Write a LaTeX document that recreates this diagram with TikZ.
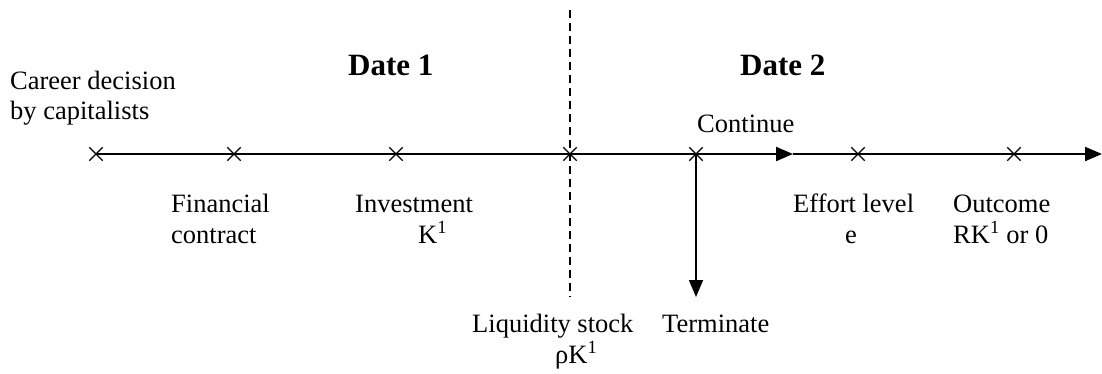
\documentclass[tikz,border=0pt]{standalone}
\usepackage{fontspec}
\setmainfont{Liberation Serif}
\usetikzlibrary{arrows.meta,shapes.misc}
\begin{document}
\begin{tikzpicture}[x=1pt,y=-1pt,
  lbl/.style={anchor=base west,inner sep=0pt,font=\fontsize{26.5}{30}\selectfont},
  datelbl/.style={anchor=base west,inner sep=0pt,font=\fontsize{31}{34}\selectfont\bfseries},
  xmark/.style={cross out,draw,line width=1.3pt,minimum size=12pt,inner sep=0pt},
  axis/.style={line width=2pt},
  tip/.style={-{Triangle[length=17pt,width=14pt]}}]
\useasboundingbox (0,0) rectangle (1102,373);
% crosses
\node[xmark] (c1) at (96,154) {};
\node[xmark] (c2) at (234,154) {};
\node[xmark] (c3) at (396,154) {};
\node[xmark] (c4) at (570,154) {};
\node[xmark] (c5) at (696,154) {};
\node[xmark] (c6) at (858,154) {};
\node[xmark] (c7) at (1014,154) {};
\coordinate (mid) at (793,154);
\coordinate (endp) at (1102,154);
\coordinate (dtop) at (570,10);
\coordinate (dbot) at (570,297);
\coordinate (termtip) at (696,297);
% time line
\draw[axis] (c1.center) -- (c5.center);
\draw[axis,tip] (c5.center) -- (mid);
\draw[axis,tip] (mid) -- (endp);
\draw[line width=1.6pt,tip] (c5.center) -- (termtip);
\draw[line width=1.4pt,dash pattern=on 8pt off 5pt] (dtop) -- (dbot);
% labels
\node[lbl] (t1a) at (10,89) {Career decision};
\node[lbl] (t1b) at (10,119) {by capitalists};
\node[datelbl] (d1) at (348,75) {Date 1};
\node[datelbl] (d2) at (740,75) {Date 2};
\node[lbl] (cont) at (697,132) {Continue};
\node[lbl] (fa) at (171,212) {Financial};
\node[lbl] (fb) at (171,243) {contract};
\node[lbl] (ia) at (355,212) {Investment};
\node[lbl] (ib) at (418,243) {K\textsuperscript{1}};
\node[lbl] (la) at (472,332) {Liquidity stock};
\node[lbl] (lb) at (555,363) {ρK\textsuperscript{1}};
\node[lbl] (term) at (662,332) {Terminate};
\node[lbl] (ea) at (793,212) {Effort level};
\node[lbl] (eb) at (845,243) {e};
\node[lbl] (oa) at (953,212) {Outcome};
\node[lbl] (ob) at (953,243) {RK\textsuperscript{1} or 0};
\end{tikzpicture}
\end{document}
